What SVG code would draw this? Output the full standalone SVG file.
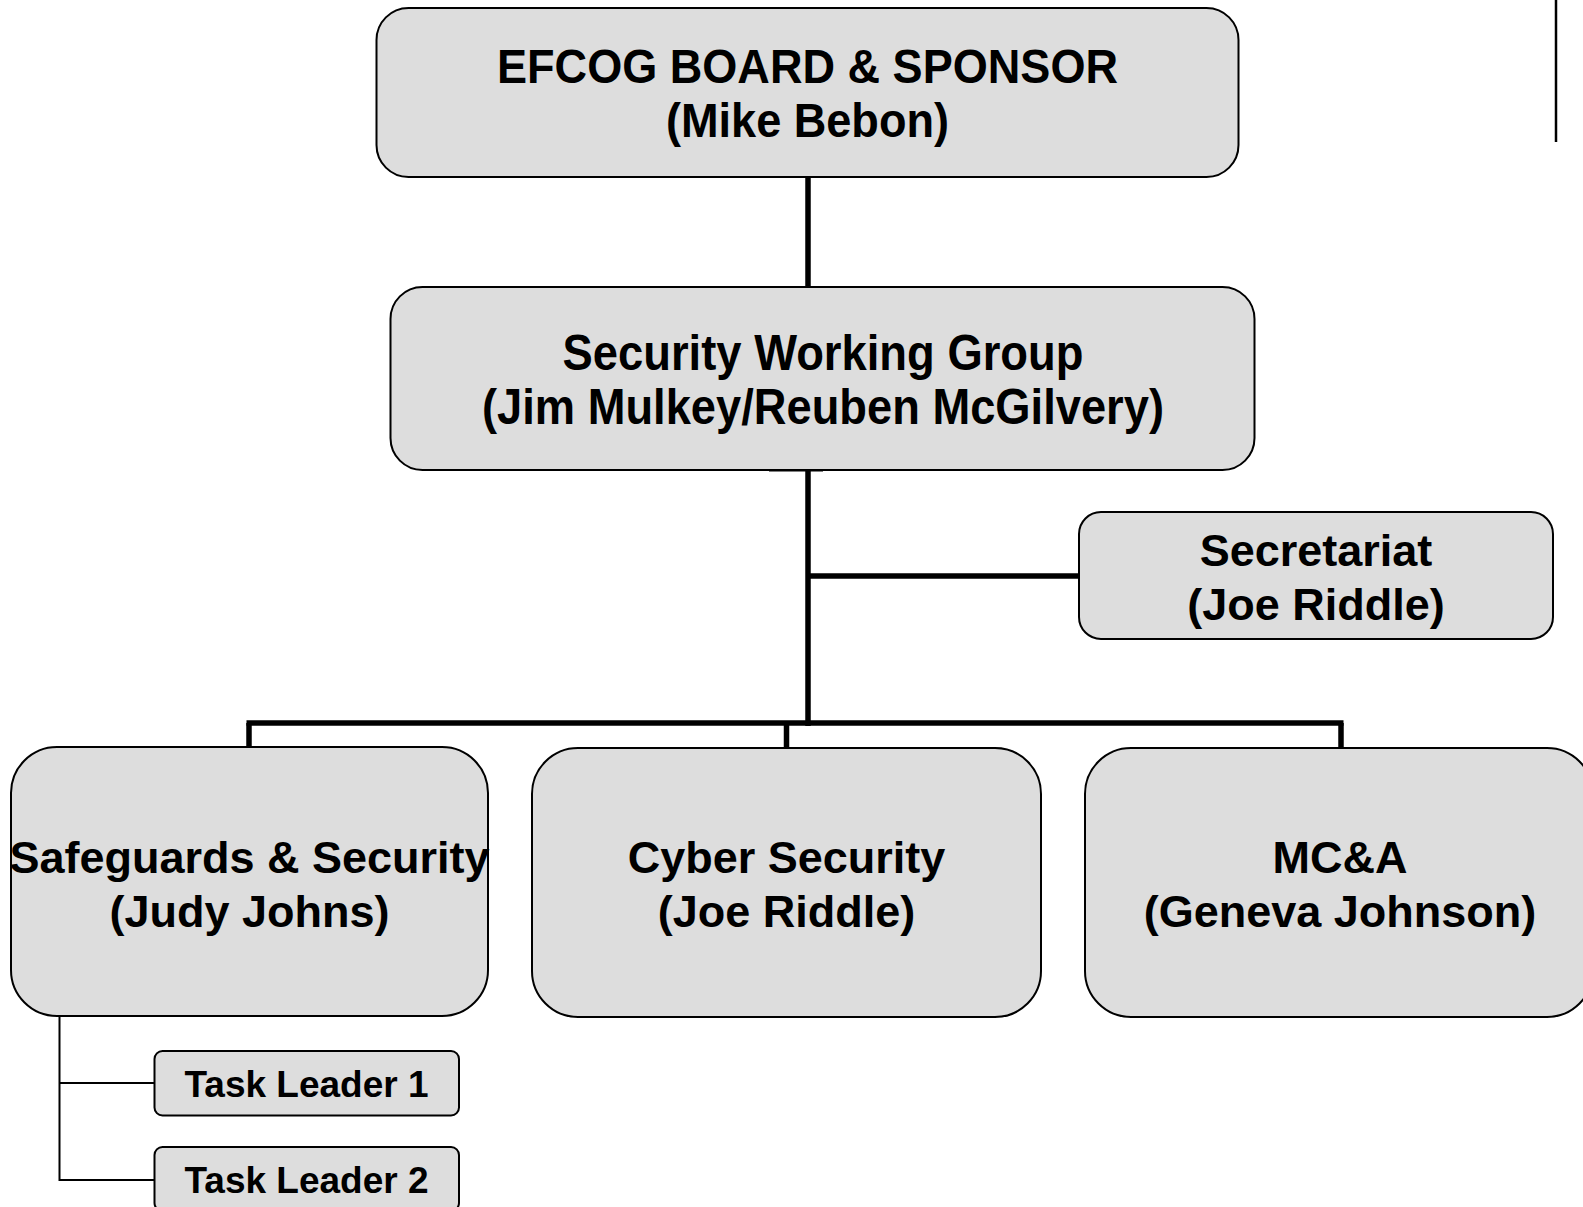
<svg xmlns="http://www.w3.org/2000/svg" width="1583" height="1207" viewBox="0 0 1583 1207">
<style>
.box{fill:#dddddd;stroke:#000;stroke-width:2}
.t{font-family:"Liberation Sans",Arial,sans-serif;font-weight:bold;fill:#000;text-anchor:middle}
.thick{stroke:#000;stroke-width:5.5;fill:none}
.thin{stroke:#000;stroke-width:2;fill:none}
</style>
<rect width="1583" height="1207" fill="#fff"/>
<g id="connectors">
<line class="thick" x1="808" y1="176" x2="808" y2="288"/>
<line class="thick" x1="808" y1="470" x2="808" y2="726"/>
<line stroke="#000" stroke-width="3" x1="769" y1="470" x2="823" y2="470"/>
<line class="thick" x1="808" y1="576" x2="1080" y2="576"/>
<line class="thick" x1="246.5" y1="723" x2="1343.5" y2="723"/>
<line class="thick" x1="249" y1="723" x2="249" y2="748"/>
<line class="thick" x1="786.5" y1="723" x2="786.5" y2="749"/>
<line class="thick" x1="1341" y1="723" x2="1341" y2="749"/>
<polyline class="thin" points="59.5,1016 59.5,1180 155,1180"/>
<line class="thin" x1="59.5" y1="1083" x2="155" y2="1083"/>
<line stroke="#000" stroke-width="2.5" x1="1556" y1="0" x2="1556" y2="142"/>
</g>
<g id="efcog">
<rect class="box" x="376.5" y="8" width="862" height="169" rx="32"/>
<text class="t" x="807.5" y="83" font-size="48" textLength="621" lengthAdjust="spacingAndGlyphs">EFCOG BOARD &amp; SPONSOR</text>
<text class="t" x="807.5" y="137" font-size="48" textLength="283" lengthAdjust="spacingAndGlyphs">(Mike Bebon)</text>
</g>
<g id="swg">
<rect class="box" x="390.5" y="287" width="864" height="183" rx="32"/>
<text class="t" x="823" y="370" font-size="50" textLength="521" lengthAdjust="spacingAndGlyphs">Security Working Group</text>
<text class="t" x="823" y="424" font-size="50" textLength="682" lengthAdjust="spacingAndGlyphs">(Jim Mulkey/Reuben McGilvery)</text>
</g>
<g id="secretariat">
<rect class="box" x="1079" y="512" width="474" height="127" rx="22"/>
<text class="t" x="1316" y="566" font-size="45">Secretariat</text>
<text class="t" x="1316" y="620" font-size="45">(Joe Riddle)</text>
</g>
<g id="safeguards">
<rect class="box" x="11" y="747" width="477" height="269" rx="46"/>
<text class="t" x="249.5" y="873" font-size="45">Safeguards &amp; Security</text>
<text class="t" x="249.5" y="927" font-size="45">(Judy Johns)</text>
</g>
<g id="cyber">
<rect class="box" x="532" y="748" width="509" height="269" rx="46"/>
<text class="t" x="786.5" y="873" font-size="45">Cyber Security</text>
<text class="t" x="786.5" y="927" font-size="45">(Joe Riddle)</text>
</g>
<g id="mca">
<rect class="box" x="1085" y="748" width="508" height="269" rx="46"/>
<text class="t" x="1340" y="873" font-size="45">MC&amp;A</text>
<text class="t" x="1340" y="927" font-size="45">(Geneva Johnson)</text>
</g>
<g id="task1">
<rect class="box" x="154.5" y="1051" width="304.5" height="64.5" rx="8"/>
<text class="t" x="306.5" y="1097" font-size="37">Task Leader 1</text>
</g>
<g id="task2">
<rect class="box" x="154.5" y="1147" width="304.5" height="64" rx="8"/>
<text class="t" x="306.5" y="1193" font-size="37">Task Leader 2</text>
</g>
</svg>
